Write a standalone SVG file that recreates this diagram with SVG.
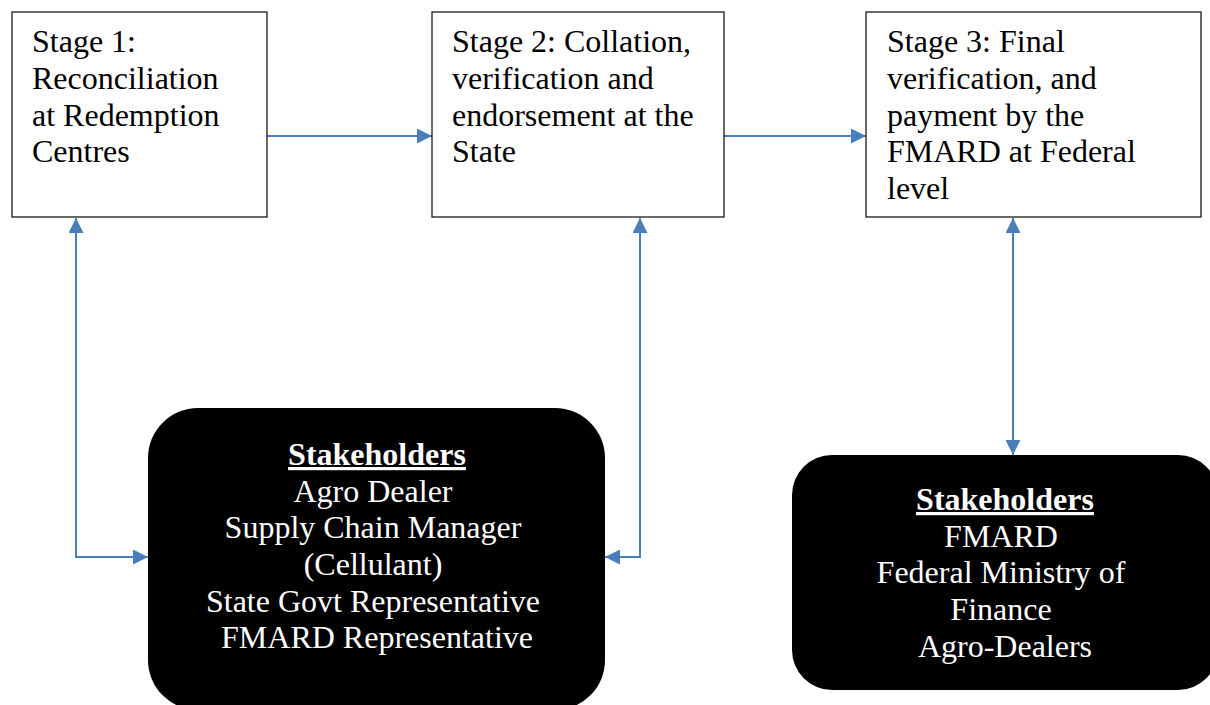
<svg xmlns="http://www.w3.org/2000/svg" width="1210" height="705" viewBox="0 0 1210 705">
  <style>
    .stage { fill: #ffffff; stroke: #1a1a1a; stroke-width: 1.3; }
    .stage-text { font-family: "Liberation Serif", "Times New Roman", serif; font-size: 32px; fill: #000000; }
    .holder { fill: #000000; }
    .holder-text { font-family: "Liberation Serif", "Times New Roman", serif; font-size: 32px; fill: #ffffff; text-anchor: middle; }
    .holder-title { font-weight: bold; text-decoration: underline; }
    .link { fill: none; stroke: #4a7ebb; stroke-width: 2; }
  </style>
  <defs>
    <marker id="arrow" viewBox="0 0 10 10" refX="10" refY="5" markerWidth="7.5" markerHeight="7.5" markerUnits="strokeWidth" orient="auto-start-reverse">
      <path d="M0,0 L10,5 L0,10 Z" fill="#4a7ebb"/>
    </marker>
  </defs>

  <rect width="1210" height="705" fill="#ffffff"/>

  <g id="connectors">
    <line class="link" x1="267" y1="136" x2="432" y2="136" marker-end="url(#arrow)"/>
    <line class="link" x1="724" y1="136" x2="866" y2="136" marker-end="url(#arrow)"/>
    <polyline class="link" points="76,218 76,557 148,557" marker-start="url(#arrow)" marker-end="url(#arrow)"/>
    <polyline class="link" points="640,218 640,557 605,557" marker-start="url(#arrow)" marker-end="url(#arrow)"/>
    <line class="link" x1="1013" y1="218" x2="1013" y2="455" marker-start="url(#arrow)" marker-end="url(#arrow)"/>
  </g>

  <g id="stage1">
    <rect class="stage" x="12" y="12" width="255" height="205"/>
    <text class="stage-text">
      <tspan x="32" y="52">Stage 1:</tspan>
      <tspan x="32" y="89">Reconciliation</tspan>
      <tspan x="32" y="126">at Redemption</tspan>
      <tspan x="32" y="162">Centres</tspan>
    </text>
  </g>

  <g id="stage2">
    <rect class="stage" x="432" y="12" width="292" height="205"/>
    <text class="stage-text">
      <tspan x="452" y="52">Stage 2: Collation,</tspan>
      <tspan x="452" y="89">verification and</tspan>
      <tspan x="452" y="126">endorsement at the</tspan>
      <tspan x="452" y="162">State</tspan>
    </text>
  </g>

  <g id="stage3">
    <rect class="stage" x="866" y="12" width="335" height="205"/>
    <text class="stage-text">
      <tspan x="887" y="52">Stage 3: Final</tspan>
      <tspan x="887" y="89">verification, and</tspan>
      <tspan x="887" y="126">payment by the</tspan>
      <tspan x="887" y="162">FMARD at Federal</tspan>
      <tspan x="887" y="199">level</tspan>
    </text>
  </g>

  <g id="stakeholders-state">
    <rect class="holder" x="148" y="408" width="457" height="302" rx="50" ry="50"/>
    <text class="holder-text holder-title" x="377" y="465">Stakeholders</text>
    <text class="holder-text">
      <tspan x="377" y="502">Agro Dealer</tspan>
      <tspan x="377" y="538">Supply Chain Manager</tspan>
      <tspan x="377" y="575">(Cellulant)</tspan>
      <tspan x="377" y="612">State Govt Representative</tspan>
      <tspan x="377" y="648">FMARD Representative</tspan>
    </text>
  </g>

  <g id="stakeholders-federal">
    <rect class="holder" x="792" y="455" width="426" height="235" rx="40" ry="40"/>
    <text class="holder-text holder-title" x="1005" y="510">Stakeholders</text>
    <text class="holder-text">
      <tspan x="1005" y="547">FMARD</tspan>
      <tspan x="1005" y="583">Federal Ministry of</tspan>
      <tspan x="1005" y="620">Finance</tspan>
      <tspan x="1005" y="657">Agro-Dealers</tspan>
    </text>
  </g>
</svg>
